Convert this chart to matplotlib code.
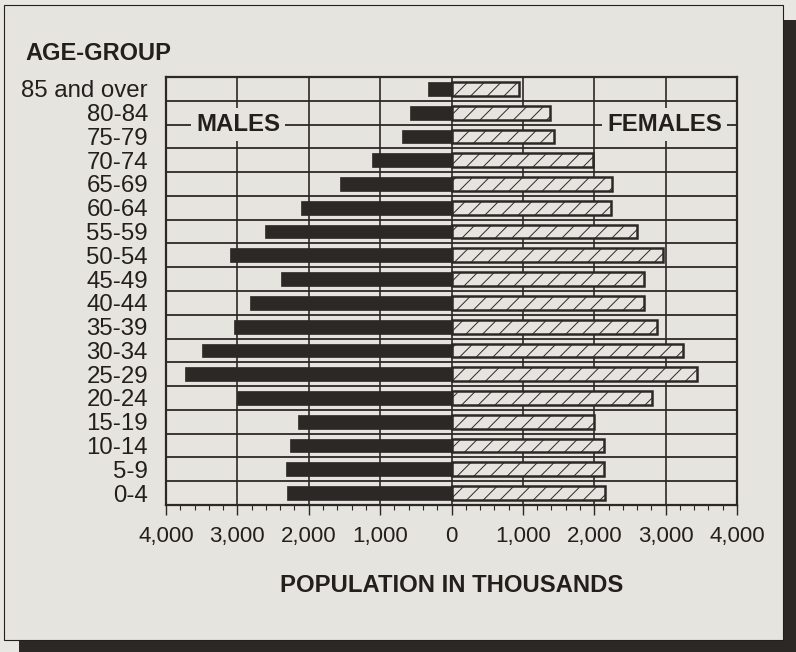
# Population pyramid: males vs females by age group, in thousands
import numpy as np
import matplotlib
matplotlib.use('Agg')
import matplotlib.pyplot as plt
from matplotlib.patches import Rectangle
from matplotlib.ticker import FuncFormatter, MultipleLocator

AGE_GROUPS = ["85 and over", "80-84", "75-79", "70-74", "65-69", "60-64",
              "55-59", "50-54", "45-49", "40-44", "35-39", "30-34",
              "25-29", "20-24", "15-19", "10-14", "5-9", "0-4"]
MALES = [330, 580, 700, 1120, 1560, 2110, 2610, 3100, 2390, 2830,
         3050, 3500, 3735, 3000, 2155, 2260, 2325, 2300]
FEMALES = [940, 1380, 1440, 1980, 2250, 2240, 2600, 2970, 2700, 2700,
           2880, 3250, 3440, 2810, 2000, 2130, 2130, 2150]
X_TICKS = [-4000, -3000, -2000, -1000, 0, 1000, 2000, 3000, 4000]

PAGE = "#e9e7e2"
PANEL = "#e6e4de"
DARK = "#2b2826"
INK = "#221f1d"

plt.rcParams['font.family'] = ['Liberation Sans', 'DejaVu Sans']
plt.rcParams['hatch.linewidth'] = 0.7

W, H = 796, 652
fig = plt.figure(figsize=(W / 100, H / 100), dpi=100, facecolor=PAGE)

# drop shadow + card behind the chart
fig.patches.append(Rectangle((19 / W, 0), 1 - 19 / W, (H - 20) / H,
                             transform=fig.transFigure, facecolor=DARK,
                             edgecolor="none", zorder=0))
fig.patches.append(Rectangle((4 / W, 12 / H), 779 / W, 635 / H,
                             transform=fig.transFigure, facecolor=PANEL,
                             edgecolor=INK, linewidth=0.8, zorder=1))

ax = fig.add_axes([166 / W, (H - 505) / H, (737 - 166) / W, (505 - 77) / H])
ax.set_facecolor(PANEL)
ax.set_zorder(2)

y = np.arange(len(AGE_GROUPS))
bar_h = 0.58
ax.barh(y, [-m for m in MALES], height=bar_h, color=DARK, edgecolor=DARK,
        linewidth=0.5, zorder=3)
ax.barh(y, FEMALES, height=bar_h, facecolor=PANEL, edgecolor=DARK,
        hatch="//", linewidth=1.8, zorder=3)

ax.set_xlim(-4000, 4000)
ax.set_ylim(len(AGE_GROUPS) - 0.5, -0.5)

# grid: vertical at every 1,000, horizontal between rows
for x in X_TICKS[1:-1]:
    ax.axvline(x, color=DARK, linewidth=1.2, zorder=1)
for b in np.arange(0.5, len(AGE_GROUPS) - 1, 1):
    ax.axhline(b, color=DARK, linewidth=1.3, zorder=1)

for s in ax.spines.values():
    s.set_linewidth(1.6)
    s.set_color(DARK)

ax.set_xticks(X_TICKS)
ax.xaxis.set_major_formatter(FuncFormatter(lambda v, p: f"{abs(int(v)):,}"))
ax.xaxis.set_minor_locator(MultipleLocator(200))
ax.tick_params(axis="x", which="major", length=7, width=1, color=DARK,
               labelsize=16, labelcolor=INK, pad=8)
ax.tick_params(axis="x", which="minor", length=3.5, width=0.8, color=DARK)

ax.set_yticks(y)
ax.set_yticklabels(AGE_GROUPS)
ax.tick_params(axis="y", length=0, labelsize=17.3, labelcolor=INK, pad=13)

lbl_box = dict(boxstyle="square,pad=0.2", facecolor=PANEL, edgecolor="none")
ax.text(-2990, 1.5, "MALES", ha="center", va="center", fontsize=17.3,
        fontweight="bold", color=INK, bbox=lbl_box, zorder=4)
ax.text(2985, 1.5, "FEMALES", ha="center", va="center", fontsize=17.3,
        fontweight="bold", color=INK, bbox=lbl_box, zorder=4)

fig.text(25 / W, 1 - 53 / H, "AGE-GROUP", ha="left", va="center",
         fontsize=17, fontweight="bold", color=INK, zorder=3)
fig.text(452 / W, 1 - 586 / H, "POPULATION IN THOUSANDS", ha="center",
         va="center", fontsize=17.2, fontweight="bold", color=INK, zorder=3)

fig.savefig("out.png", dpi=100, facecolor=PAGE)
